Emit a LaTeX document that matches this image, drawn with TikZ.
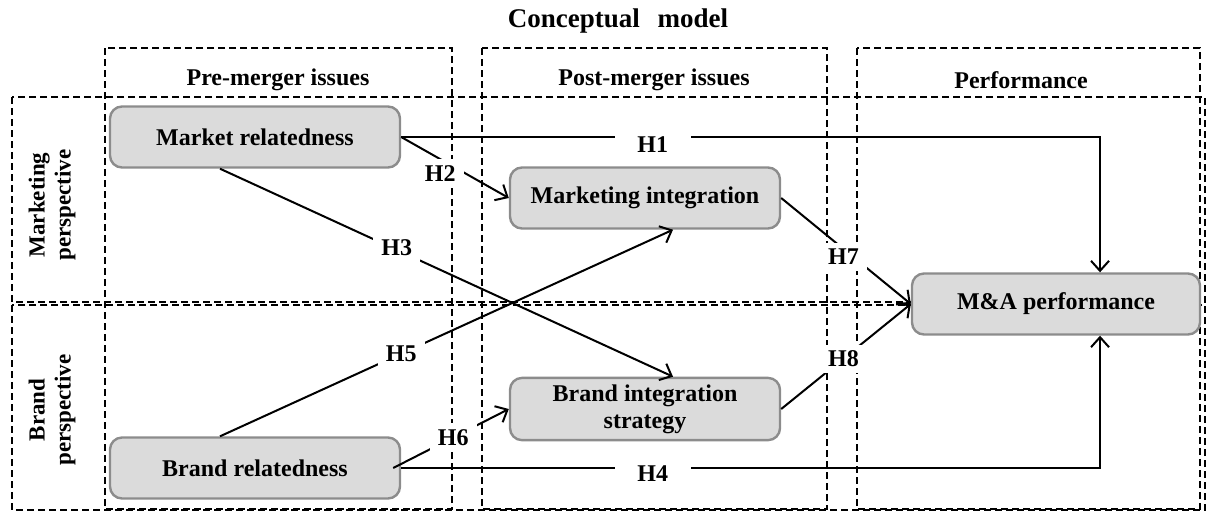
\documentclass[tikz,border=0pt]{standalone}
\usepackage{fontspec}
\setmainfont{Liberation Serif}
\usetikzlibrary{arrows.meta}
\providecommand\mypx{0.5pt}

\begin{document}
\begin{tikzpicture}[x=\mypx, y=-\mypx, node distance=105.5pt, >={Straight Barb[length=5pt,width=9pt]}]
  \tikzstyle{frame} = [draw, line width=1pt, dash pattern=on 3.5pt off 2pt]
  \tikzstyle{block} = [rectangle, draw=black!45, line width=1.2pt, fill=black!14, rounded corners=6pt,
                                    minimum height=30.5pt, align=center, font=\fontsize{12}{13.5}\selectfont\bfseries]
  \tikzstyle{head} = [font=\fontsize{12}{14}\selectfont\bfseries]
  \tikzstyle{side} = [rotate=90, align=center, font=\fontsize{11.5}{13}\selectfont\bfseries]
  \tikzstyle{hyp} = [fill=white, inner xsep=4pt, inner ysep=3pt, font=\fontsize{12}{14}\selectfont\bfseries]
  \tikzstyle{link} = [->, line width=1pt]
\useasboundingbox (0,0) rectangle (1208,511);
% columns and rows
\draw[frame] (105,48) rectangle (452,509);
\draw[frame] (482,48) rectangle (827,509);
\draw[frame] (857,48) rectangle (1200,509);
\draw[frame] (12,97) rectangle (1205,302);
\draw[frame] (12,305) rectangle (1205,510);
\node[head, font=\fontsize{13.5}{15}\selectfont\bfseries](title) at (618,21){Conceptual\hspace{0.65em}model};
\node[head](pre) at (278,80){Pre-merger issues};
\node[head](post) at (654,80){Post-merger issues};
\node[head](perfhead) at (1021,80){Performance};
\node[side](mktside) at (52,205){Marketing\\perspective};
\node[side](brdside) at (52,410){Brand\\perspective};
% boxes
\node[block, minimum width=145pt](mrel) at (255,137){Market relatedness};
\node[block, minimum width=135pt](mint) at (645,198){Marketing integration};
\node[block, minimum width=144pt](perf) at (1056,304){M\&A performance};
\node[block, minimum width=135pt, below of=mint](bint){Brand integration\\strategy};
\node[block, minimum width=145pt, below of=mrel, yshift=-60pt](brel){Brand relatedness};
% hypotheses
\draw[link] (mrel.east) -| node[hyp, pos=0.18, yshift=-4pt, minimum width=38pt](h1){H1} ([xshift=22pt]perf.north);
\draw[link] (mrel.east) -- node[hyp, pos=0.4, xshift=-2pt, yshift=-6pt](h2){H2} (mint.west);
\draw[link] ([xshift=-17.5pt]mrel.south) -- node[hyp, pos=0.39, yshift=1pt](h3){H3} ([xshift=14pt]bint.north);
\draw[link] (brel.east) -| node[hyp, pos=0.18, yshift=-3pt, minimum width=38pt](h4){H4} ([xshift=22pt]perf.south);
\draw[link] ([xshift=-17.5pt]brel.north) -- node[hyp, pos=0.4](h5){H5} ([xshift=14pt]mint.south);
\draw[link] ([xshift=-4pt]brel.east) -- node[hyp, pos=0.52](h6){H6} (bint.west);
\draw[link] (mint.east) -- node[hyp, pos=0.48, yshift=-4pt](h7){H7} (perf.west);
\draw[link] (bint.east) -- node[hyp, pos=0.48](h8){H8} (perf.west);
\end{tikzpicture}
\end{document}
